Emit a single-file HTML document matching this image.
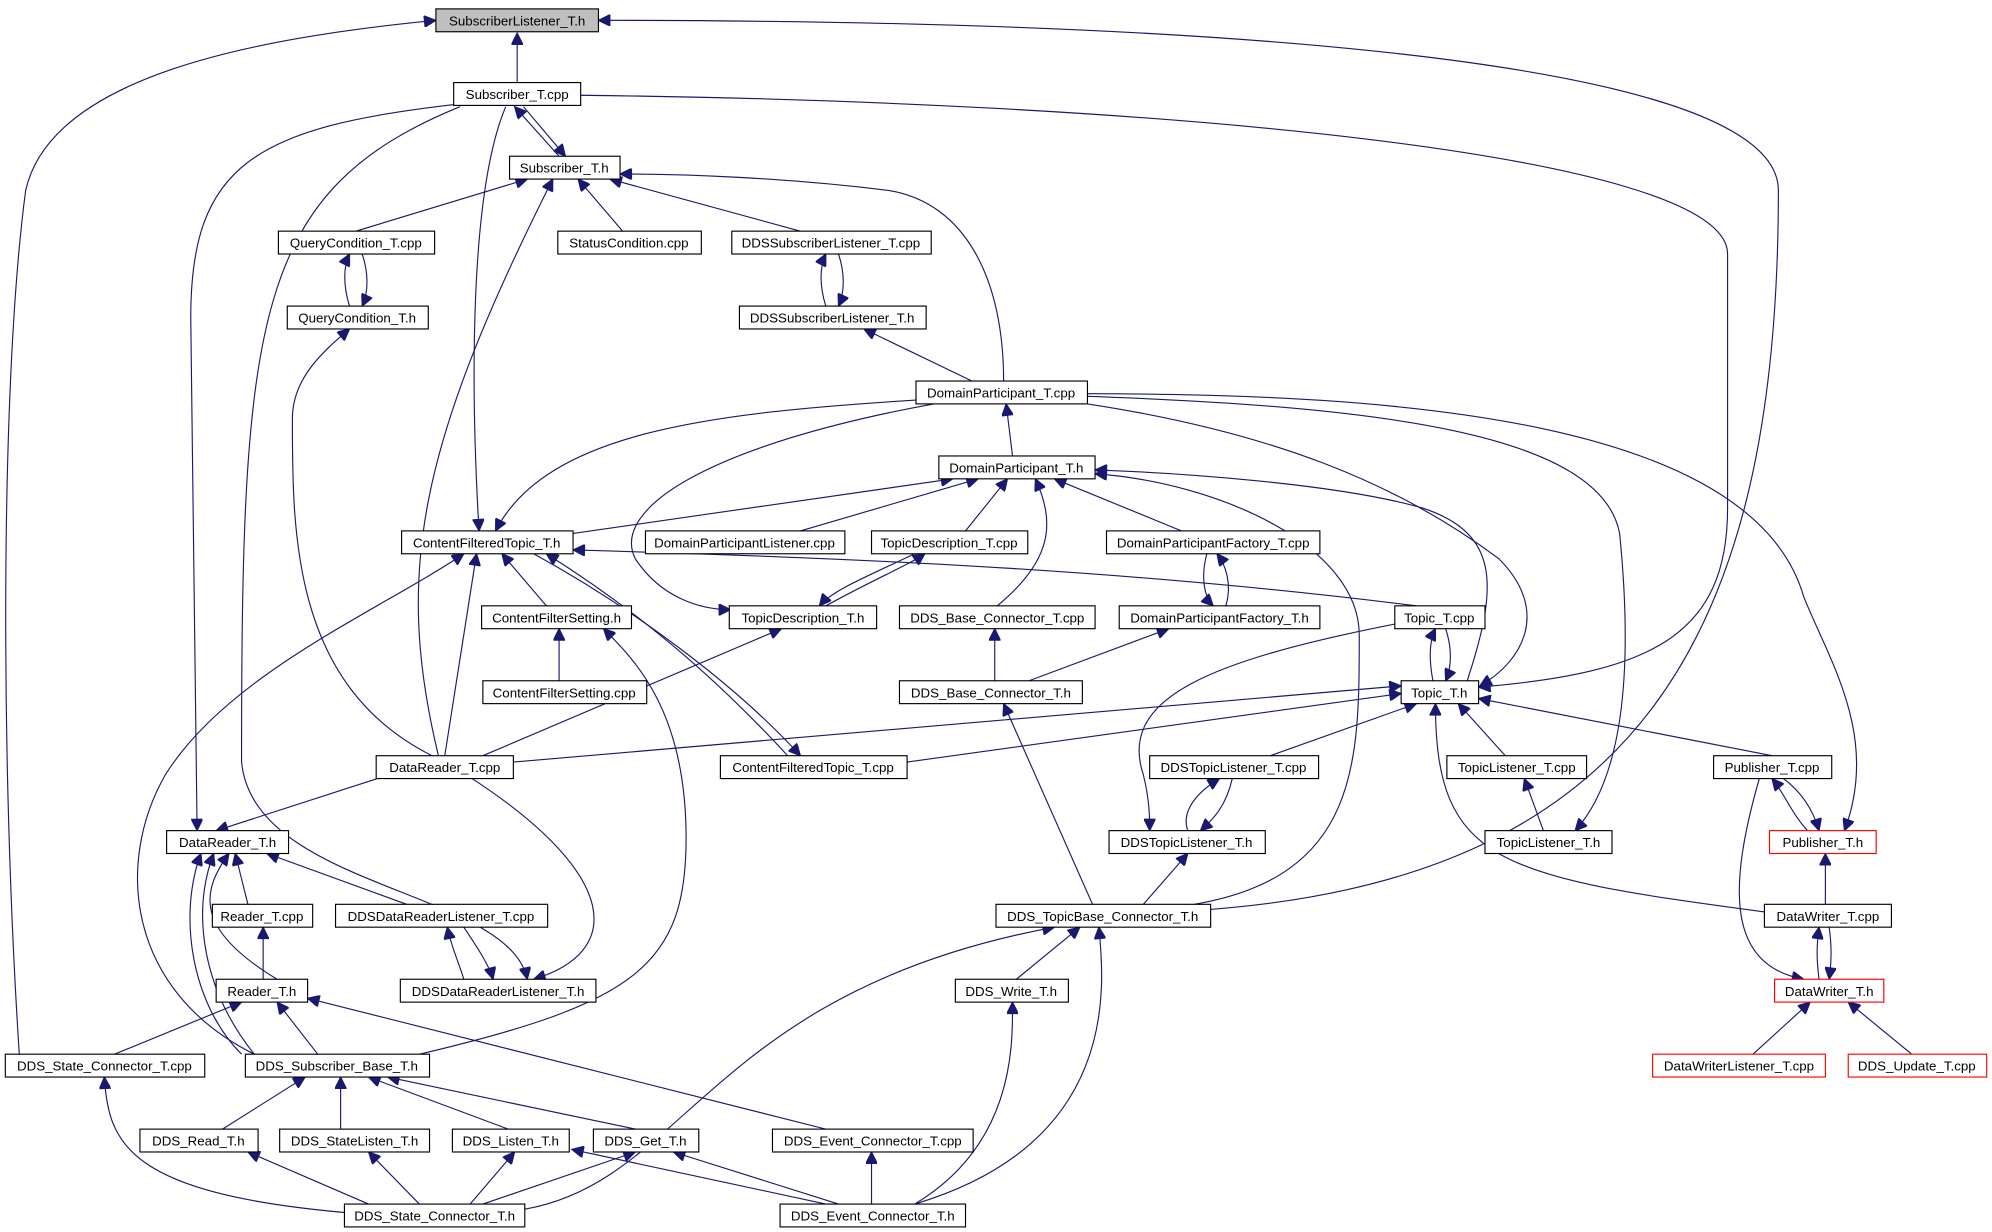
<!DOCTYPE html>
<html><head><meta charset="utf-8"><style>
html,body{margin:0;padding:0;background:#fff;}
svg{display:block;}
text{font-family:"Liberation Sans",sans-serif;font-size:10.5px;fill:#000;}
.e{fill:none;stroke:#191970;stroke-width:0.9;}
.b{fill:#fff;stroke:#000;stroke-width:0.9;}
.r{fill:#fff;stroke:#f00;stroke-width:0.9;}
.g{fill:#bfbfbf;stroke:#000;stroke-width:0.9;}
</style></head><body>
<svg width="1992" height="1232" viewBox="0 0 1568 970" xmlns="http://www.w3.org/2000/svg">
<defs><marker id="a" viewBox="0 0 10 10" refX="10" refY="5" markerWidth="11" markerHeight="9" markerUnits="userSpaceOnUse" orient="auto"><path d="M0,0 L10,5 L0,10 z" fill="#191970" stroke="#191970"/></marker></defs>
<g class="e" marker-end="url(#a)">
<path d="M407,65 L407,26"/>
<path d="M15,830 C0,600 0,300 20,150 C40,60 200,30 343,16"/>
<path d="M953,716 C1290,690 1400,500 1400,150 C1400,40 900,16 471,16"/>
<path d="M440,123 L405,84"/>
<path d="M412,84 L445,123"/>
<path d="M360,82 C200,100 150,130 150,250 L155,654"/>
<path d="M398,84 C370,150 370,300 377,418"/>
<path d="M362,84 C200,150 190,250 190,600 C200,700 400,700 415,771"/>
<path d="M457,75 C900,80 1360,120 1360,200 L1360,400 C1360,500 1300,530 1164,541"/>
<path d="M280,182 L415,141"/>
<path d="M490,182 L455,141"/>
<path d="M630,182 L480,141"/>
<path d="M790,300 C790,220 760,160 700,150 C620,140 540,137 488,137"/>
<path d="M345,595 C310,450 330,350 435,141"/>
<path d="M275,241 C270,225 270,210 275,200"/>
<path d="M285,200 C290,215 290,230 285,241"/>
<path d="M650,241 C645,225 645,210 650,200"/>
<path d="M660,200 C665,215 665,230 660,241"/>
<path d="M340,595 C230,540 230,420 230,330 C230,300 250,280 275,259"/>
<path d="M765,300 L680,259"/>
<path d="M797,359 L792,318"/>
<path d="M721,315 C560,325 430,340 390,418"/>
<path d="M735,318 C560,350 480,400 500,440 C520,470 550,480 575,480"/>
<path d="M856,318 C1000,340 1100,380 1180,440 C1220,480 1200,520 1165,540"/>
<path d="M856,312 C1080,320 1260,340 1275,420 C1285,520 1280,610 1240,654"/>
<path d="M856,310 C1100,310 1380,330 1420,470 C1440,520 1480,580 1452,654"/>
<path d="M451,420 L750,377"/>
<path d="M630,418 L770,377"/>
<path d="M760,418 L793,377"/>
<path d="M930,418 L830,377"/>
<path d="M785,477 C830,440 830,410 815,377"/>
<path d="M1155,536 C1180,460 1180,420 1120,400 C1050,380 920,372 862,370"/>
<path d="M940,712 C1070,690 1070,600 1070,500 C1070,430 960,380 862,373"/>
<path d="M720,436 C680,455 655,465 645,477"/>
<path d="M650,477 C690,455 715,445 728,436"/>
<path d="M950,436 C945,455 948,470 955,477"/>
<path d="M965,477 C970,460 965,445 958,436"/>
<path d="M430,477 L395,436"/>
<path d="M350,595 L375,436"/>
<path d="M200,830 C100,780 90,680 130,610 C180,530 300,480 365,436"/>
<path d="M420,436 C500,480 580,540 630,595"/>
<path d="M620,595 C560,530 500,480 430,436"/>
<path d="M1115,477 C900,450 700,440 451,433"/>
<path d="M440,536 L440,495"/>
<path d="M330,830 C500,790 540,760 540,660 C540,560 500,520 475,495"/>
<path d="M380,595 L615,495"/>
<path d="M783,536 L783,495"/>
<path d="M810,536 L920,495"/>
<path d="M1128,536 C1125,520 1125,505 1130,495"/>
<path d="M1138,495 C1143,510 1143,525 1138,536"/>
<path d="M1105,490 C950,520 880,550 900,610 C905,630 905,645 905,654"/>
<path d="M404,600 L1103,540"/>
<path d="M714,600 L1103,546"/>
<path d="M1000,595 L1115,554"/>
<path d="M1185,595 L1148,554"/>
<path d="M1395,595 L1164,550"/>
<path d="M1389,718 C1180,690 1130,680 1130,554"/>
<path d="M860,712 L790,554"/>
<path d="M300,612 L170,654"/>
<path d="M370,612 C490,690 490,750 420,771"/>
<path d="M935,654 C930,640 940,625 960,613"/>
<path d="M970,613 C965,635 955,645 945,654"/>
<path d="M1215,654 L1200,613"/>
<path d="M1423,654 C1410,640 1405,625 1395,613"/>
<path d="M1404,613 C1420,625 1428,640 1432,654"/>
<path d="M900,712 L935,672"/>
<path d="M1437,712 L1437,672"/>
<path d="M1385,613 C1360,700 1360,760 1420,771"/>
<path d="M1432,771 C1430,755 1430,745 1432,730"/>
<path d="M1440,730 C1442,745 1442,755 1440,771"/>
<path d="M1380,830 L1425,789"/>
<path d="M1505,830 L1455,789"/>
<path d="M195,712 L185,672"/>
<path d="M320,712 L210,672"/>
<path d="M218,771 C150,730 160,700 180,672"/>
<path d="M190,830 C150,790 140,720 158,672"/>
<path d="M200,830 C160,780 150,720 168,672"/>
<path d="M207,771 L207,730"/>
<path d="M365,771 C360,755 355,745 352,730"/>
<path d="M365,730 C375,745 385,760 388,771"/>
<path d="M250,830 L218,789"/>
<path d="M90,830 L190,789"/>
<path d="M650,889 L242,786"/>
<path d="M800,771 L850,730"/>
<path d="M413,952 C540,930 560,780 830,730"/>
<path d="M720,948 C880,900 870,780 865,730"/>
<path d="M720,948 C800,900 797,820 797,789"/>
<path d="M175,889 L240,848"/>
<path d="M268,889 L268,848"/>
<path d="M400,889 L290,848"/>
<path d="M500,889 L305,848"/>
<path d="M290,948 L195,907"/>
<path d="M330,948 L290,907"/>
<path d="M370,948 L405,907"/>
<path d="M380,948 L500,907"/>
<path d="M275,955 C100,940 85,900 82,848"/>
<path d="M650,948 L450,905"/>
<path d="M660,948 L530,907"/>
<path d="M686,948 L686,907"/>
</g>
<g>
<rect class="g" x="343" y="7" width="128" height="18"/><text x="407" y="20" text-anchor="middle">SubscriberListener_T.h</text>
</g>
<g text-anchor="middle">
<rect class="b" x="357" y="65" width="100" height="18"/><text x="407" y="78">Subscriber_T.cpp</text>
<rect class="b" x="401" y="123" width="87" height="18"/><text x="444" y="136">Subscriber_T.h</text>
<rect class="b" x="219" y="182" width="123" height="18"/><text x="280" y="195">QueryCondition_T.cpp</text>
<rect class="b" x="439" y="182" width="113" height="18"/><text x="495" y="195">StatusCondition.cpp</text>
<rect class="b" x="576" y="182" width="157" height="18"/><text x="654" y="195">DDSSubscriberListener_T.cpp</text>
<rect class="b" x="226" y="241" width="111" height="18"/><text x="281" y="254">QueryCondition_T.h</text>
<rect class="b" x="582" y="241" width="147" height="18"/><text x="655" y="254">DDSSubscriberListener_T.h</text>
<rect class="b" x="721" y="300" width="135" height="18"/><text x="788" y="313">DomainParticipant_T.cpp</text>
<rect class="b" x="739" y="359" width="123" height="18"/><text x="800" y="372">DomainParticipant_T.h</text>
<rect class="b" x="316" y="418" width="135" height="18"/><text x="383" y="431">ContentFilteredTopic_T.h</text>
<rect class="b" x="508" y="418" width="157" height="18"/><text x="586" y="431">DomainParticipantListener.cpp</text>
<rect class="b" x="686" y="418" width="123" height="18"/><text x="747" y="431">TopicDescription_T.cpp</text>
<rect class="b" x="871" y="418" width="168" height="18"/><text x="955" y="431">DomainParticipantFactory_T.cpp</text>
<rect class="b" x="379" y="477" width="118" height="18"/><text x="438" y="490">ContentFilterSetting.h</text>
<rect class="b" x="574" y="477" width="116" height="18"/><text x="632" y="490">TopicDescription_T.h</text>
<rect class="b" x="708" y="477" width="154" height="18"/><text x="785" y="490">DDS_Base_Connector_T.cpp</text>
<rect class="b" x="881" y="477" width="158" height="18"/><text x="960" y="490">DomainParticipantFactory_T.h</text>
<rect class="b" x="1098" y="477" width="71" height="18"/><text x="1133" y="490">Topic_T.cpp</text>
<rect class="b" x="380" y="536" width="129" height="18"/><text x="444" y="549">ContentFilterSetting.cpp</text>
<rect class="b" x="708" y="536" width="144" height="18"/><text x="780" y="549">DDS_Base_Connector_T.h</text>
<rect class="b" x="1103" y="536" width="61" height="18"/><text x="1133" y="549">Topic_T.h</text>
<rect class="b" x="296" y="595" width="108" height="18"/><text x="350" y="608">DataReader_T.cpp</text>
<rect class="b" x="567" y="595" width="147" height="18"/><text x="640" y="608">ContentFilteredTopic_T.cpp</text>
<rect class="b" x="905" y="595" width="133" height="18"/><text x="971" y="608">DDSTopicListener_T.cpp</text>
<rect class="b" x="1139" y="595" width="110" height="18"/><text x="1194" y="608">TopicListener_T.cpp</text>
<rect class="b" x="1349" y="595" width="93" height="18"/><text x="1395" y="608">Publisher_T.cpp</text>
<rect class="b" x="131" y="654" width="96" height="18"/><text x="179" y="667">DataReader_T.h</text>
<rect class="b" x="873" y="654" width="123" height="18"/><text x="934" y="667">DDSTopicListener_T.h</text>
<rect class="b" x="1169" y="654" width="100" height="18"/><text x="1219" y="667">TopicListener_T.h</text>
<rect class="r" x="1393" y="654" width="84" height="18"/><text x="1435" y="667">Publisher_T.h</text>
<rect class="b" x="167" y="712" width="79" height="18"/><text x="206" y="725">Reader_T.cpp</text>
<rect class="b" x="264" y="712" width="167" height="18"/><text x="347" y="725">DDSDataReaderListener_T.cpp</text>
<rect class="b" x="784" y="712" width="169" height="18"/><text x="868" y="725">DDS_TopicBase_Connector_T.h</text>
<rect class="b" x="1389" y="712" width="100" height="18"/><text x="1439" y="725">DataWriter_T.cpp</text>
<rect class="b" x="170" y="771" width="72" height="18"/><text x="206" y="784">Reader_T.h</text>
<rect class="b" x="315" y="771" width="154" height="18"/><text x="392" y="784">DDSDataReaderListener_T.h</text>
<rect class="b" x="752" y="771" width="89" height="18"/><text x="796" y="784">DDS_Write_T.h</text>
<rect class="r" x="1397" y="771" width="86" height="18"/><text x="1440" y="784">DataWriter_T.h</text>
<rect class="b" x="4" y="830" width="157" height="18"/><text x="82" y="843">DDS_State_Connector_T.cpp</text>
<rect class="b" x="193" y="830" width="145" height="18"/><text x="265" y="843">DDS_Subscriber_Base_T.h</text>
<rect class="r" x="1301" y="830" width="136" height="18"/><text x="1369" y="843">DataWriterListener_T.cpp</text>
<rect class="r" x="1455" y="830" width="109" height="18"/><text x="1509" y="843">DDS_Update_T.cpp</text>
<rect class="b" x="110" y="889" width="93" height="18"/><text x="156" y="902">DDS_Read_T.h</text>
<rect class="b" x="220" y="889" width="118" height="18"/><text x="279" y="902">DDS_StateListen_T.h</text>
<rect class="b" x="356" y="889" width="92" height="18"/><text x="402" y="902">DDS_Listen_T.h</text>
<rect class="b" x="467" y="889" width="83" height="18"/><text x="508" y="902">DDS_Get_T.h</text>
<rect class="b" x="608" y="889" width="158" height="18"/><text x="687" y="902">DDS_Event_Connector_T.cpp</text>
<rect class="b" x="271" y="948" width="142" height="18"/><text x="342" y="961">DDS_State_Connector_T.h</text>
<rect class="b" x="614" y="948" width="146" height="18"/><text x="687" y="961">DDS_Event_Connector_T.h</text>
</g>
</svg>
</body></html>
